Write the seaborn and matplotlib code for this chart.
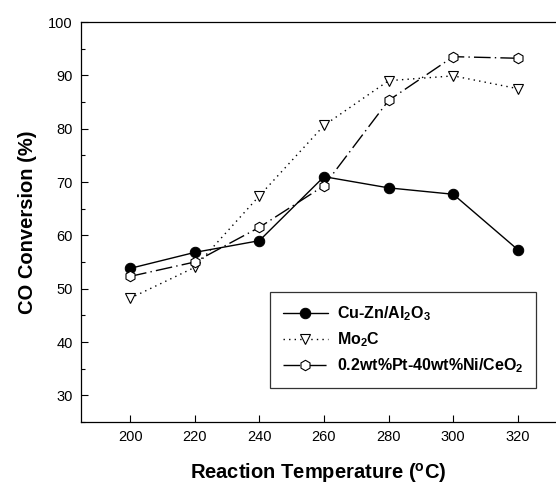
import numpy as np
import pandas as pd
import seaborn as sns
import matplotlib.pyplot as plt
from matplotlib.ticker import MultipleLocator

temps = [200, 220, 240, 260, 280, 300, 320]
cuzn = [53.8, 56.8, 59.0, 71.0, 68.9, 67.7, 57.3]
mo2c = [48.2, 54.0, 67.4, 80.6, 89.0, 89.9, 87.5]
ptni = [52.3, 55.0, 61.5, 69.3, 85.3, 93.5, 93.2]
names = [r'Cu-Zn/Al$_\mathbf{2}$O$_\mathbf{3}$', r'Mo$_\mathbf{2}$C',
         r'0.2wt%Pt-40wt%Ni/CeO$_\mathbf{2}$']

sns.set_style("ticks")
plt.rcParams['font.family'] = ['Liberation Sans', 'DejaVu Sans']
plt.rcParams['mathtext.fontset'] = 'custom'
plt.rcParams['mathtext.rm'] = 'Liberation Sans'
plt.rcParams['mathtext.bf'] = 'Liberation Sans:bold'
plt.rcParams['text.color'] = 'black'
plt.rcParams['axes.labelcolor'] = 'black'
plt.rcParams['xtick.color'] = 'black'
plt.rcParams['ytick.color'] = 'black'

fig = plt.figure(figsize=(5.56, 4.87), dpi=100)
ax = fig.add_axes([81/556, 65/487, 475/556, 400/487])

sns.lineplot(x=temps, y=cuzn, ax=ax, color='black', lw=1, linestyle='-',
             marker='o', markersize=7.5, markerfacecolor='black',
             markeredgecolor='black', label=names[0])
sns.lineplot(x=temps, y=mo2c, ax=ax, color='black', lw=1, linestyle=(0, (1, 3)),
             marker='v', markersize=7.5, markerfacecolor='white',
             markeredgecolor='black', markeredgewidth=0.8, label=names[1])
sns.lineplot(x=temps, y=ptni, ax=ax, color='black', lw=1, linestyle=(0, (12, 3, 1, 3)),
             marker='h', markersize=7.5, markerfacecolor='white',
             markeredgecolor='black', markeredgewidth=0.8, label=names[2])

ax.set_xlim(184.8, 331.8)
ax.set_ylim(25, 100)
ax.set_xticks(temps)
ax.yaxis.set_minor_locator(MultipleLocator(5))
ax.set_yticks(range(30, 101, 10))
ax.tick_params(direction='in', labelsize=10.5, length=5, width=0.8, pad=6)
ax.tick_params(which='minor', direction='in', length=3, width=0.8)
ax.spines['right'].set_visible(False)
for s in ['left', 'top', 'bottom']:
    ax.spines[s].set_linewidth(0.9)
    ax.spines[s].set_color('black')

ax.set_xlabel(r'Reaction Temperature ($\mathbf{^{o}}$C)', fontsize=14.5,
              fontweight='bold', labelpad=12)
ax.set_ylabel('CO Conversion (%)', fontsize=14.5, fontweight='bold', labelpad=8)

leg = ax.legend(loc='upper left', bbox_to_anchor=((270-81)/475, (422-292)/400),
                frameon=True, fancybox=False, edgecolor='black',
                prop={'weight': 'bold', 'size': 11.5}, handlelength=2.8,
                handletextpad=0.6, borderpad=0.8, labelspacing=0.45,
                borderaxespad=0)
leg.get_frame().set_linewidth(0.9)

fig.savefig('out.png', dpi=100)
